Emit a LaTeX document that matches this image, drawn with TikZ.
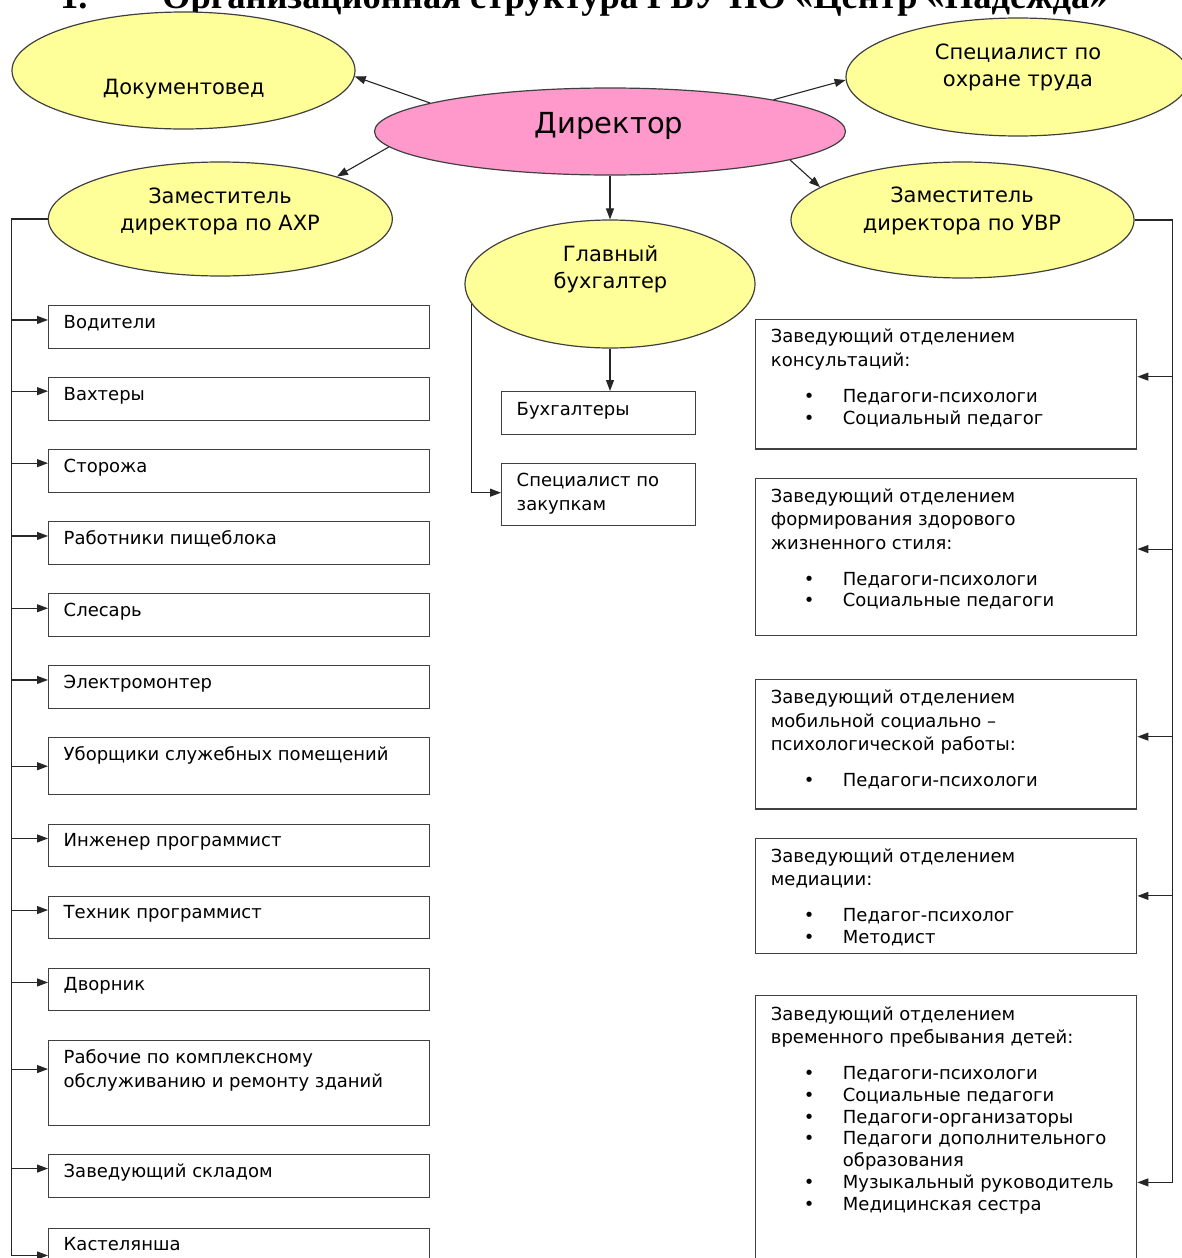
\documentclass[tikz,border=0pt]{standalone}
\usepackage{fontspec}
\setmainfont{DejaVu Sans}
\newfontfamily\titlefont{Liberation Serif}
\usepackage{xcolor}
\usetikzlibrary{arrows, arrows.meta}
\usetikzlibrary{calc}
\usetikzlibrary{shapes.geometric}

\definecolor{ovalyellow}{RGB}{255,255,153}
\definecolor{ovalpink}{RGB}{255,153,204}
\definecolor{edgegray}{RGB}{64,64,64}

\newcommand{\staffitem}[1]{\makebox[72pt][l]{\hspace{33pt}\textbullet}#1}

\begin{document}
\begin{tikzpicture}[x=1pt, y=-1pt,
    oval/.style={ellipse, draw=edgegray, line width=1.2pt, fill=ovalyellow, inner sep=0pt},
    post/.style={rectangle, draw=edgegray, line width=1.4pt, inner sep=0pt, anchor=north west, minimum width=381pt, minimum height=42.5pt},
    ovaltext/.style={align=center, anchor=base, inner sep=0pt, font=\fontsize{21}{27.5}\selectfont},
    posttext/.style={align=left, anchor=base west, inner sep=0pt, font=\fontsize{18}{21.7}\selectfont},
    link/.style={draw=black!85, line width=1.1pt, -{Triangle[length=11pt, width=8pt]}}]
  \useasboundingbox (0,0) rectangle (1182,1258);

  % title, its upper half is cut off
  % (multi-line texts below are placed by the baseline of their last line)
  \node[anchor=base west, inner sep=0pt, font=\titlefont\bfseries\fontsize{36.5}{40}\selectfont] (title) at (60,9) {\makebox[102pt][l]{1.}Организационная структура ГБУ ПО «Центр «Надежда»};

  % ovals
  \node[oval, fill=ovalpink, minimum width=471pt, minimum height=87pt] (dir) at (610,131.5) {};
  \node[anchor=base, inner sep=0pt, font=\fontsize{29}{32}\selectfont] (dirT) at (609,133.3) {Директор};
  \node[oval, minimum width=343pt, minimum height=117pt] (doc) at (183.5,70.5) {};
  \node[ovaltext] (docT) at (183.8,94.3) {Документовед};
  \node[oval, minimum width=344pt, minimum height=118pt] (spec) at (1018,77) {};
  \node[ovaltext] (specT) at (1018,86.7) {Специалист по\\охране труда};
  \node[oval, minimum width=344pt, minimum height=114pt] (axp) at (220.3,219) {};
  \node[ovaltext] (axpT) at (220,230.5) {Заместитель\\директора по АХР};
  \node[oval, minimum width=343pt, minimum height=116pt] (uvr) at (962.5,220) {};
  \node[ovaltext] (uvrT) at (962,230) {Заместитель\\директора по УВР};
  \node[oval, minimum width=290pt, minimum height=128pt] (gb) at (610,284) {};
  \node[ovaltext] (gbT) at (610.5,288.5) {Главный\\бухгалтер};

  \draw[link] (dir.171) -- (doc.-2);
  \draw[link] (dir.184) -- (axp.20);
  \draw[link] (dir.11) -- (spec.181);
  \draw[link] (dir.-9) -- (uvr.167);
  \draw[link] (dir.south) -- (gb.north);

  % accountants
  \node[post, minimum width=194pt, minimum height=43pt] (buh) at (501,391) {};
  \node[posttext] (buhT) at ($(buh.north west)+(15.5,24)$) {Бухгалтеры};
  \node[post, minimum width=194pt, minimum height=62pt] (zak) at (501,463) {};
  \node[posttext] (zakT) at ($(zak.north west)+(15.5,47)$) {Специалист по\\[1.8pt]закупкам};
  \draw[link] (gb.south) -- (gb.south |- buh.north);
  \draw[link] (gb.188.7) |- ([yshift=2pt]zak.west);

  % staff of the deputy for maintenance
  \node[post] (vod) at (48,305) {};
  \node[posttext] (vodT) at ($(vod.north west)+(15.5,23)$) {Водители};
  \node[post] (vah) at (48,377) {};
  \node[posttext] (vahT) at ($(vah.north west)+(15.5,23)$) {Вахтеры};
  \node[post] (stor) at (48,449) {};
  \node[posttext] (storT) at ($(stor.north west)+(15.5,23)$) {Сторожа};
  \node[post] (pish) at (48,521) {};
  \node[posttext] (pishT) at ($(pish.north west)+(15.5,23)$) {Работники пищеблока};
  \node[post] (sles) at (48,593) {};
  \node[posttext] (slesT) at ($(sles.north west)+(15.5,23)$) {Слесарь};
  \node[post] (el) at (48,665) {};
  \node[posttext] (elT) at ($(el.north west)+(15.5,23)$) {Электромонтер};
  \node[post, minimum height=57pt] (ub) at (48,737) {};
  \node[posttext] (ubT) at ($(ub.north west)+(15.5,23)$) {Уборщики служебных помещений};
  \node[post] (ing) at (48,823.5) {};
  \node[posttext] (ingT) at ($(ing.north west)+(15.5,23)$) {Инженер программист};
  \node[post] (teh) at (48,895.5) {};
  \node[posttext] (tehT) at ($(teh.north west)+(15.5,23)$) {Техник программист};
  \node[post] (dvor) at (48,967.5) {};
  \node[posttext] (dvorT) at ($(dvor.north west)+(15.5,23)$) {Дворник};
  \node[post, minimum height=85.5pt] (rab) at (48,1039.5) {};
  \node[posttext] (rabT) at ($(rab.north west)+(15.5,48)$) {Рабочие по комплексному\\[2.5pt]обслуживанию и ремонту зданий};
  \node[post] (skl) at (48,1154) {};
  \node[posttext] (sklT) at ($(skl.north west)+(15.5,23)$) {Заведующий складом};
  \node[post] (kas) at (48,1227.5) {};
  \node[posttext] (kasT) at ($(kas.north west)+(15.5,23)$) {Кастелянша};

  \draw[link] (axp.west) -- ++(-36,0) |- ([yshift=7pt]vod.west);
  \draw[link] (axp.west) -- ++(-36,0) |- ([yshift=7.8pt]vah.west);
  \draw[link] (axp.west) -- ++(-36,0) |- ([yshift=7.8pt]stor.west);
  \draw[link] (axp.west) -- ++(-36,0) |- ([yshift=7pt]pish.west);
  \draw[link] (axp.west) -- ++(-36,0) |- ([yshift=6.7pt]sles.west);
  \draw[link] (axp.west) -- ++(-36,0) |- ([yshift=7pt]el.west);
  \draw[link] (axp.west) -- ++(-36,0) |- (ub.west);
  \draw[link] (axp.west) -- ++(-36,0) |- ([yshift=7pt]ing.west);
  \draw[link] (axp.west) -- ++(-36,0) |- ([yshift=7.4pt]teh.west);
  \draw[link] (axp.west) -- ++(-36,0) |- ([yshift=7pt]dvor.west);
  \draw[link] (axp.west) -- ++(-36,0) |- ([yshift=13.9pt]rab.west);
  \draw[link] (axp.west) -- ++(-36,0) |- ([yshift=7.4pt]skl.west);
  \draw[link] (axp.west) -- ++(-36,0) |- ([yshift=-6pt]kas.west);

  % departments of the deputy for education
  \node[post, minimum width=381pt, minimum height=129.3pt] (kons) at (755,319) {};
  \node[posttext] (konsT) at ($(kons.north west)+(15.7,105)$) {Заведующий отделением\\[1.8pt]консультаций:\\[14.3pt]\staffitem{Педагоги-психологи}\\\staffitem{Социальный педагог}};
  \node[post, minimum width=381pt, minimum height=157.3pt] (zoj) at (755,477.7) {};
  \node[posttext] (zojT) at ($(zoj.north west)+(15.7,129)$) {Заведующий отделением\\[1.8pt]формирования здорового\\[1.8pt]жизненного стиля:\\[14.3pt]\staffitem{Педагоги-психологи}\\\staffitem{Социальные педагоги}};
  \node[post, minimum width=381pt, minimum height=129.3pt] (mob) at (755,679) {};
  \node[posttext] (mobT) at ($(mob.north west)+(15.7,107.7)$) {Заведующий отделением\\[1.8pt]мобильной социально –\\[1.8pt]психологической работы:\\[14.3pt]\staffitem{Педагоги-психологи}};
  \node[post, minimum width=381pt, minimum height=115pt] (med) at (755,837.7) {};
  \node[posttext] (medT) at ($(med.north west)+(15.7,105.6)$) {Заведующий отделением\\[1.8pt]медиации:\\[14.3pt]\staffitem{Педагог-психолог}\\\staffitem{Методист}};
  \node[post, minimum width=381pt, minimum height=295pt] (vrem) at (755,995) {};
  \node[posttext] (vremT) at ($(vrem.north west)+(15.7,215)$) {Заведующий отделением\\[1.8pt]временного пребывания детей:\\[14.3pt]\staffitem{Педагоги-психологи}\\\staffitem{Социальные педагоги}\\\staffitem{Педагоги-организаторы}\\\staffitem{Педагоги дополнительного}\\\hspace*{72pt}образования\\\staffitem{Музыкальный руководитель}\\\staffitem{Медицинская сестра}};

  \draw[link] (uvr.east) -- ++(38,0) |- ([yshift=7.7pt]kons.east);
  \draw[link] (uvr.east) -- ++(38,0) |- ([yshift=8pt]zoj.east);
  \draw[link] (uvr.east) -- ++(38,0) |- ([yshift=7.7pt]mob.east);
  \draw[link] (uvr.east) -- ++(38,0) |- (med.east);
  \draw[link] (uvr.east) -- ++(38,0) |- ([yshift=-39.2pt]vrem.east);
\end{tikzpicture}
\end{document}
